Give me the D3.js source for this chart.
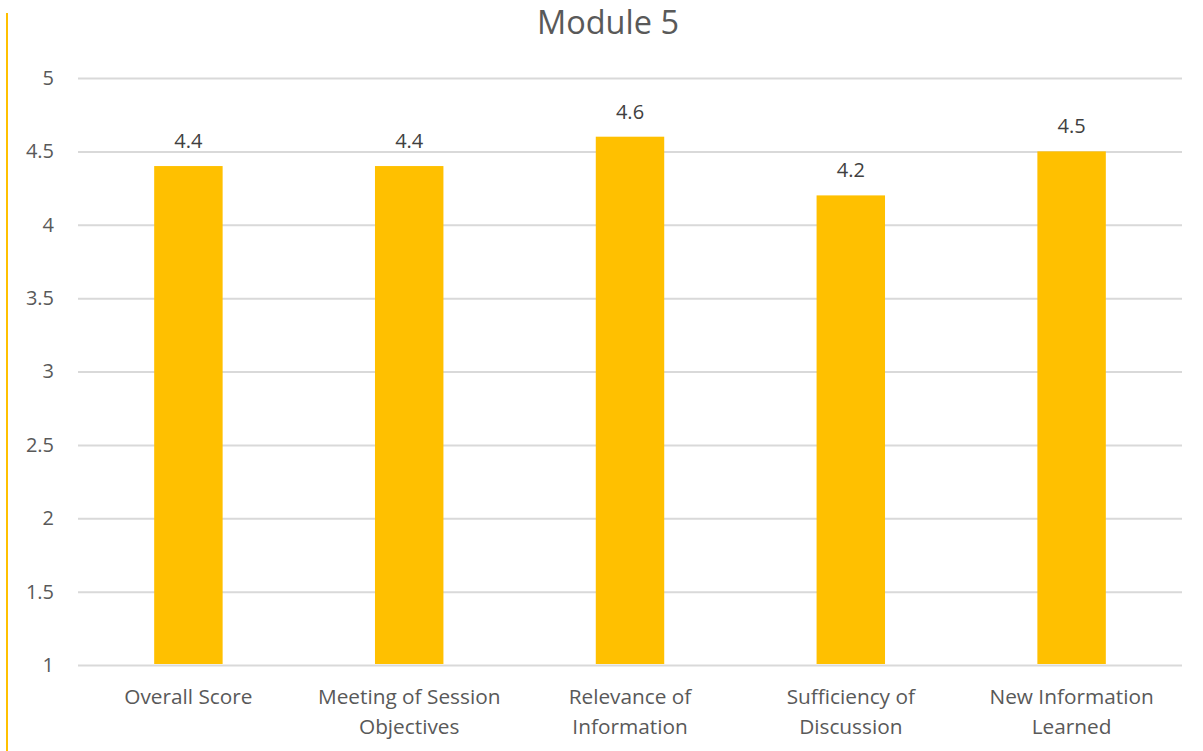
<!DOCTYPE html>
<html>
<head>
<meta charset="utf-8">
<script src="https://cdn.jsdelivr.net/npm/d3@7"></script>
<style>
  html, body { margin: 0; padding: 0; background: #fff; }
  svg { display: block; font-family: "Open Sans", sans-serif; }
</style>
</head>
<body>
<svg id="chart" width="1203" height="751"></svg>
<script>
// Module 5 evaluation scores
const categories = [
  ["Overall Score"],
  ["Meeting of Session", "Objectives"],
  ["Relevance of", "Information"],
  ["Sufficiency of", "Discussion"],
  ["New Information", "Learned"]
];
const scores = [4.4, 4.4, 4.6, 4.2, 4.5];
const yTicks = [1, 1.5, 2, 2.5, 3, 3.5, 4, 4.5, 5];
const title = "Module 5";

const svg = d3.select("#chart");
const margin = { left: 78, right: 21, top: 78, bottom: 86 };
const W = 1203, H = 751;

const x = d3.scaleBand()
  .domain(d3.range(categories.length))
  .range([margin.left, W - margin.right])
  .paddingInner(0.69)
  .paddingOuter(0.345);

const y = d3.scaleLinear()
  .domain([1, 5])
  .range([H - margin.bottom, margin.top]);

// left accent line
svg.append("line")
  .attr("x1", 7).attr("x2", 7)
  .attr("y1", 13).attr("y2", H)
  .attr("stroke", "#FFC000").attr("stroke-width", 2);

// title
svg.append("text")
  .attr("x", 608).attr("y", 34)
  .attr("text-anchor", "middle")
  .attr("font-size", 32.5)
  .attr("fill", "#595959")
  .text(title);

// gridlines + y tick labels
const yAxis = d3.axisLeft(y)
  .tickValues(yTicks)
  .tickSize(-(W - margin.left - margin.right))
  .tickPadding(24)
  .tickFormat(d3.format("~g"));

const gy = svg.append("g")
  .attr("transform", `translate(${margin.left},0)`)
  .call(yAxis);
gy.select(".domain").remove();
gy.selectAll(".tick line").attr("stroke", "#d9d9d9").attr("stroke-width", 2);
gy.selectAll(".tick text")
  .attr("font-size", 20)
  .attr("fill", "#595959")
  .attr("font-family", "Open Sans, sans-serif");

// bars
svg.append("g").selectAll("rect")
  .data(scores)
  .join("rect")
  .attr("x", (d, i) => x(i))
  .attr("width", x.bandwidth())
  .attr("y", d => y(d))
  .attr("height", d => y(1) - y(d) - 1)
  .attr("fill", "#FFC000");

// value labels
svg.append("g").selectAll("text")
  .data(scores)
  .join("text")
  .attr("x", (d, i) => x(i) + x.bandwidth() / 2)
  .attr("y", d => y(d) - 18)
  .attr("text-anchor", "middle")
  .attr("font-size", 20)
  .attr("fill", "#404040")
  .text(d => d3.format(".1f")(d));

// category labels
const gx = svg.append("g");
categories.forEach((lines, i) => {
  const t = gx.append("text")
    .attr("x", x(i) + x.bandwidth() / 2)
    .attr("y", 704)
    .attr("text-anchor", "middle")
    .attr("font-size", 20.8)
    .attr("fill", "#595959");
  lines.forEach((ln, j) => {
    t.append("tspan")
      .attr("x", x(i) + x.bandwidth() / 2)
      .attr("dy", j === 0 ? 0 : 30)
      .text(ln);
  });
});
</script>
</body>
</html>
